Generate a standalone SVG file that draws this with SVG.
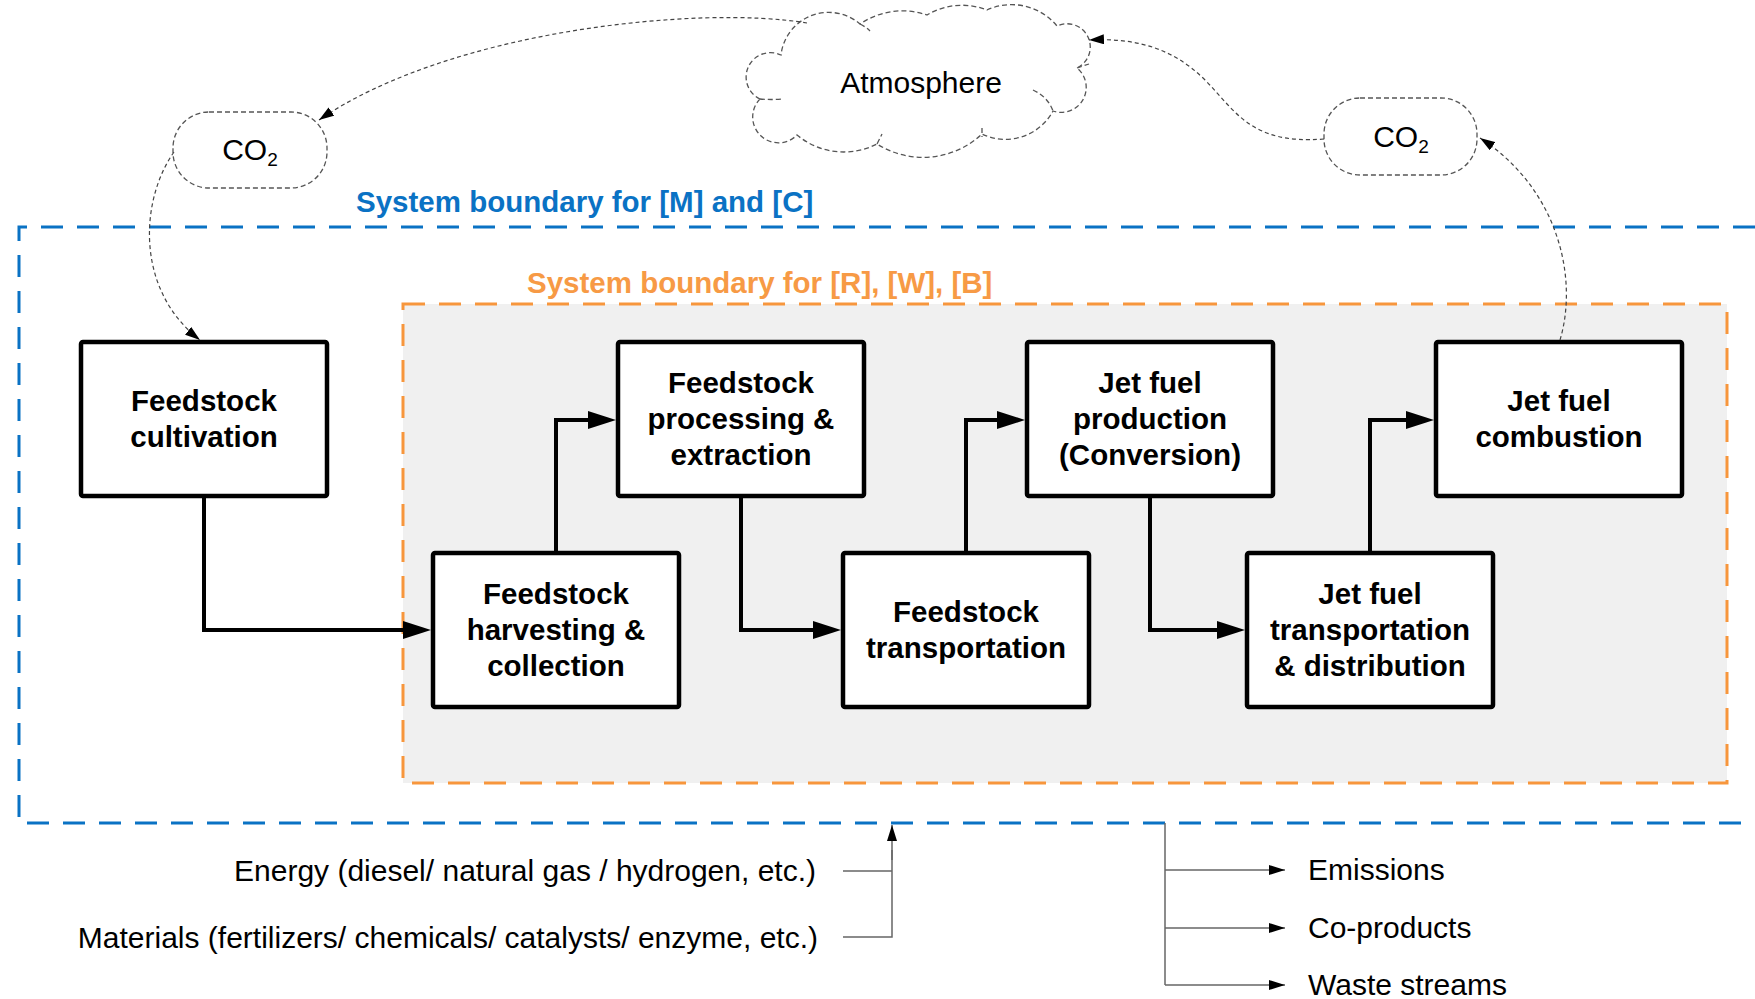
<svg xmlns="http://www.w3.org/2000/svg" width="1755" height="999" viewBox="0 0 1755 999">
<defs>
<style>
text{font-family:"Liberation Sans",Arial,sans-serif;fill:#000}
.nb{fill:#fff;stroke:#000;stroke-width:4.5}
.nt{font-size:29.5px;font-weight:bold;text-anchor:middle}
.rt{font-size:30px}
.flow{fill:none;stroke:#000;stroke-width:4}
.dcurve{fill:none;stroke:#444;stroke-width:1.2;stroke-dasharray:4 3}
.cloud{fill:#fff;stroke:#555;stroke-width:1.3;stroke-dasharray:5 3}
.thin{fill:none;stroke:#666;stroke-width:1.5}
</style>
<marker id="big" markerUnits="userSpaceOnUse" markerWidth="28" markerHeight="18" viewBox="0 0 28 18" refX="20" refY="9" orient="auto"><path d="M0,0 L28,9 L0,18 z" fill="#000"/></marker>
<marker id="small" markerUnits="userSpaceOnUse" markerWidth="15" markerHeight="10" viewBox="0 0 15 10" refX="15" refY="5" orient="auto"><path d="M0,0 L15,5 L0,10 z" fill="#000"/></marker>
<marker id="mid" markerUnits="userSpaceOnUse" markerWidth="16" markerHeight="10" viewBox="0 0 16 10" refX="16" refY="5" orient="auto"><path d="M0,0 L16,5 L0,10 z" fill="#000"/></marker>
</defs>
<rect width="1755" height="999" fill="#fff"/>

<g id="boundary-mc">
<path d="M1755,227 H19 V823 H1755" fill="none" stroke="#0A72C4" stroke-width="3" stroke-dasharray="22 14"/>
<text x="356" y="212" style="font-size:29.5px;font-weight:bold;fill:#0A72C4">System boundary for [M] and [C]</text>
</g>
<g id="boundary-rwb">
<rect x="403" y="304" width="1324" height="479" fill="#F0F0F0" stroke="#F7963C" stroke-width="3" stroke-dasharray="22 14"/>
<text x="527" y="293" style="font-size:29.5px;font-weight:bold;fill:#F79A45">System boundary for [R], [W], [B]</text>
</g>

<g id="atmosphere">
<path class="cloud" d="M760,99 A22,22 0 0 1 781,55 A48,48 0 0 1 860,24 A75,75 0 0 1 927,15 A68,68 0 0 1 987,10 A59,59 0 0 1 1057,26 A23,23 0 0 1 1077,68 A25,25 0 0 1 1053,111 A54,54 0 0 1 982,134 A86,86 0 0 1 877,144 A73,73 0 0 1 797,135 A23,23 0 0 1 760,99 Z"/>
<path class="cloud" fill="none" d="M860,24 Q866,27 870,31 M1077,68 Q1083,66 1089,64 M1033,90 Q1048,97 1053,111 M982,128 L982,137 M877,144 Q880,138 882,134 M760,99 Q771,100 783,99"/>
<text x="921" y="93" class="rt" text-anchor="middle">Atmosphere</text>
</g>

<g id="co2-left">
<rect x="173" y="112" width="154" height="76" rx="36" fill="#fff" stroke="#555" stroke-width="1.3" stroke-dasharray="5 3"/>
<text x="250" y="160" class="rt" text-anchor="middle">CO<tspan style="font-size:19px" dy="6">2</tspan></text>
</g>
<g id="co2-right">
<rect x="1324" y="98" width="153" height="77" rx="36" fill="#fff" stroke="#555" stroke-width="1.3" stroke-dasharray="5 3"/>
<text x="1401" y="147" class="rt" text-anchor="middle">CO<tspan style="font-size:19px" dy="6">2</tspan></text>
</g>

<g id="n-cultivation">
<rect class="nb" x="81" y="342" width="246" height="154" rx="2"/>
<text class="nt" x="204" y="411">Feedstock</text>
<text class="nt" x="204" y="447">cultivation</text>
</g>
<g id="n-harvesting">
<rect class="nb" x="433" y="553" width="246" height="154" rx="2"/>
<text class="nt" x="556" y="604">Feedstock</text>
<text class="nt" x="556" y="640">harvesting &amp;</text>
<text class="nt" x="556" y="676">collection</text>
</g>
<g id="n-processing">
<rect class="nb" x="618" y="342" width="246" height="154" rx="2"/>
<text class="nt" x="741" y="393">Feedstock</text>
<text class="nt" x="741" y="429">processing &amp;</text>
<text class="nt" x="741" y="465">extraction</text>
</g>
<g id="n-transport">
<rect class="nb" x="843" y="553" width="246" height="154" rx="2"/>
<text class="nt" x="966" y="622">Feedstock</text>
<text class="nt" x="966" y="658">transportation</text>
</g>
<g id="n-production">
<rect class="nb" x="1027" y="342" width="246" height="154" rx="2"/>
<text class="nt" x="1150" y="393">Jet fuel</text>
<text class="nt" x="1150" y="429">production</text>
<text class="nt" x="1150" y="465">(Conversion)</text>
</g>
<g id="n-distribution">
<rect class="nb" x="1247" y="553" width="246" height="154" rx="2"/>
<text class="nt" x="1370" y="604">Jet fuel</text>
<text class="nt" x="1370" y="640">transportation</text>
<text class="nt" x="1370" y="676">&amp; distribution</text>
</g>
<g id="n-combustion">
<rect class="nb" x="1436" y="342" width="246" height="154" rx="2"/>
<text class="nt" x="1559" y="411">Jet fuel</text>
<text class="nt" x="1559" y="447">combustion</text>
</g>

<g id="connectors">
<path class="flow" marker-end="url(#big)" d="M204,498 V630 H423"/>
<path class="flow" marker-end="url(#big)" d="M556,551 V420 H608"/>
<path class="flow" marker-end="url(#big)" d="M741,498 V630 H833"/>
<path class="flow" marker-end="url(#big)" d="M966,551 V420 H1017"/>
<path class="flow" marker-end="url(#big)" d="M1150,498 V630 H1237"/>
<path class="flow" marker-end="url(#big)" d="M1370,551 V420 H1426"/>
<path class="dcurve" marker-end="url(#small)" d="M807,23 C700,5 450,30 319,120"/>
<path class="dcurve" marker-end="url(#small)" d="M174,152 C140,200 135,290 200,340"/>
<path class="dcurve" marker-end="url(#small)" d="M1560,340 C1578,280 1560,190 1480,138"/>
<path class="dcurve" marker-end="url(#small)" d="M1324,139 C1250,145 1235,110 1205,80 C1170,45 1130,38 1089,40"/>
<path class="thin" d="M843,871 H892 M843,937 H892 V850"/>
<path class="thin" marker-end="url(#mid)" d="M892,860 V825"/>
<path class="thin" d="M1165,823 V985"/>
<path class="thin" marker-end="url(#mid)" d="M1165,870 H1285"/>
<path class="thin" marker-end="url(#mid)" d="M1165,928 H1285"/>
<path class="thin" marker-end="url(#mid)" d="M1165,985 H1285"/>
</g>

<g id="inputs">
<text class="rt" x="816" y="881" text-anchor="end">Energy (diesel/ natural gas / hydrogen, etc.)</text>
<text class="rt" x="818" y="948" text-anchor="end">Materials (fertilizers/ chemicals/ catalysts/ enzyme, etc.)</text>
</g>
<g id="outputs">
<text class="rt" x="1308" y="880">Emissions</text>
<text class="rt" x="1308" y="938">Co-products</text>
<text class="rt" x="1308" y="995">Waste streams</text>
</g>
</svg>
